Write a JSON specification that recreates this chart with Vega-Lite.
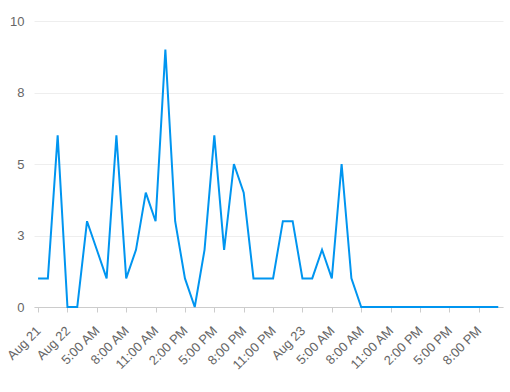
{
  "$schema": "https://vega.github.io/schema/vega-lite/v6.json",
  "autosize": "none",
  "padding": {"left": 34, "top": 21, "right": 7, "bottom": 85},
  "width": 469,
  "height": 286,
  "background": "white",
  "config": {
    "view": {"stroke": null},
    "font": "Liberation Sans",
    "axis": {"labelFont": "Liberation Sans", "labelColor": "#666666", "labelFontSize": 13}
  },
  "data": {
    "values": [
      {"t": "2024-08-21T23:00:00Z", "v": 1},
      {"t": "2024-08-22T00:00:00Z", "v": 1},
      {"t": "2024-08-22T01:00:00Z", "v": 6},
      {"t": "2024-08-22T02:00:00Z", "v": 0},
      {"t": "2024-08-22T03:00:00Z", "v": 0},
      {"t": "2024-08-22T04:00:00Z", "v": 3},
      {"t": "2024-08-22T05:00:00Z", "v": 2},
      {"t": "2024-08-22T06:00:00Z", "v": 1},
      {"t": "2024-08-22T07:00:00Z", "v": 6},
      {"t": "2024-08-22T08:00:00Z", "v": 1},
      {"t": "2024-08-22T09:00:00Z", "v": 2},
      {"t": "2024-08-22T10:00:00Z", "v": 4},
      {"t": "2024-08-22T11:00:00Z", "v": 3},
      {"t": "2024-08-22T12:00:00Z", "v": 9},
      {"t": "2024-08-22T13:00:00Z", "v": 3},
      {"t": "2024-08-22T14:00:00Z", "v": 1},
      {"t": "2024-08-22T15:00:00Z", "v": 0},
      {"t": "2024-08-22T16:00:00Z", "v": 2},
      {"t": "2024-08-22T17:00:00Z", "v": 6},
      {"t": "2024-08-22T18:00:00Z", "v": 2},
      {"t": "2024-08-22T19:00:00Z", "v": 5},
      {"t": "2024-08-22T20:00:00Z", "v": 4},
      {"t": "2024-08-22T21:00:00Z", "v": 1},
      {"t": "2024-08-22T22:00:00Z", "v": 1},
      {"t": "2024-08-22T23:00:00Z", "v": 1},
      {"t": "2024-08-23T00:00:00Z", "v": 3},
      {"t": "2024-08-23T01:00:00Z", "v": 3},
      {"t": "2024-08-23T02:00:00Z", "v": 1},
      {"t": "2024-08-23T03:00:00Z", "v": 1},
      {"t": "2024-08-23T04:00:00Z", "v": 2},
      {"t": "2024-08-23T05:00:00Z", "v": 1},
      {"t": "2024-08-23T06:00:00Z", "v": 5},
      {"t": "2024-08-23T07:00:00Z", "v": 1},
      {"t": "2024-08-23T08:00:00Z", "v": 0},
      {"t": "2024-08-23T09:00:00Z", "v": 0},
      {"t": "2024-08-23T10:00:00Z", "v": 0},
      {"t": "2024-08-23T11:00:00Z", "v": 0},
      {"t": "2024-08-23T12:00:00Z", "v": 0},
      {"t": "2024-08-23T13:00:00Z", "v": 0},
      {"t": "2024-08-23T14:00:00Z", "v": 0},
      {"t": "2024-08-23T15:00:00Z", "v": 0},
      {"t": "2024-08-23T16:00:00Z", "v": 0},
      {"t": "2024-08-23T17:00:00Z", "v": 0},
      {"t": "2024-08-23T18:00:00Z", "v": 0},
      {"t": "2024-08-23T19:00:00Z", "v": 0},
      {"t": "2024-08-23T20:00:00Z", "v": 0},
      {"t": "2024-08-23T21:00:00Z", "v": 0},
      {"t": "2024-08-23T22:00:00Z", "v": 0}
    ]
  },
  "mark": {"type": "line", "color": "#0095f0", "strokeWidth": 2, "strokeJoin": "miter", "clip": false},
  "encoding": {
    "x": {
      "field": "t",
      "type": "temporal",
      "scale": {
        "type": "utc",
        "nice": false,
        "domain": [
          {"year": 2024, "month": 8, "date": 21, "hours": 22, "minutes": 35, "utc": true},
          {"year": 2024, "month": 8, "date": 23, "hours": 22, "minutes": 29, "utc": true}
        ]
      },
      "axis": {
        "title": null,
        "grid": false,
        "domainColor": "#cccccc",
        "tickColor": "#cccccc",
        "tickSize": 5,
        "labelAngle": -45,
        "labelPadding": 12,
        "labelOffset": -4,
        "labelOverlap": false,
        "values": [
          {"year": 2024, "month": 8, "date": 21, "hours": 23, "utc": true},
          {"year": 2024, "month": 8, "date": 22, "hours": 2, "utc": true},
          {"year": 2024, "month": 8, "date": 22, "hours": 5, "utc": true},
          {"year": 2024, "month": 8, "date": 22, "hours": 8, "utc": true},
          {"year": 2024, "month": 8, "date": 22, "hours": 11, "utc": true},
          {"year": 2024, "month": 8, "date": 22, "hours": 14, "utc": true},
          {"year": 2024, "month": 8, "date": 22, "hours": 17, "utc": true},
          {"year": 2024, "month": 8, "date": 22, "hours": 20, "utc": true},
          {"year": 2024, "month": 8, "date": 22, "hours": 23, "utc": true},
          {"year": 2024, "month": 8, "date": 23, "hours": 2, "utc": true},
          {"year": 2024, "month": 8, "date": 23, "hours": 5, "utc": true},
          {"year": 2024, "month": 8, "date": 23, "hours": 8, "utc": true},
          {"year": 2024, "month": 8, "date": 23, "hours": 11, "utc": true},
          {"year": 2024, "month": 8, "date": 23, "hours": 14, "utc": true},
          {"year": 2024, "month": 8, "date": 23, "hours": 17, "utc": true},
          {"year": 2024, "month": 8, "date": 23, "hours": 20, "utc": true}
        ],
        "labelExpr": "datum.index == 0 || utchours(datum.value) == 2 ? utcFormat(datum.value, '%b %d') : utcFormat(datum.value, '%-I:%M %p')"
      }
    },
    "y": {
      "field": "v",
      "type": "quantitative",
      "scale": {"domain": [0, 10], "nice": false},
      "axis": {
        "title": null,
        "values": [0, 2.5, 5, 7.5, 10],
        "format": ".0f",
        "domain": false,
        "ticks": false,
        "labelPadding": 10,
        "gridColor": "#eeeeee"
      }
    }
  }
}
